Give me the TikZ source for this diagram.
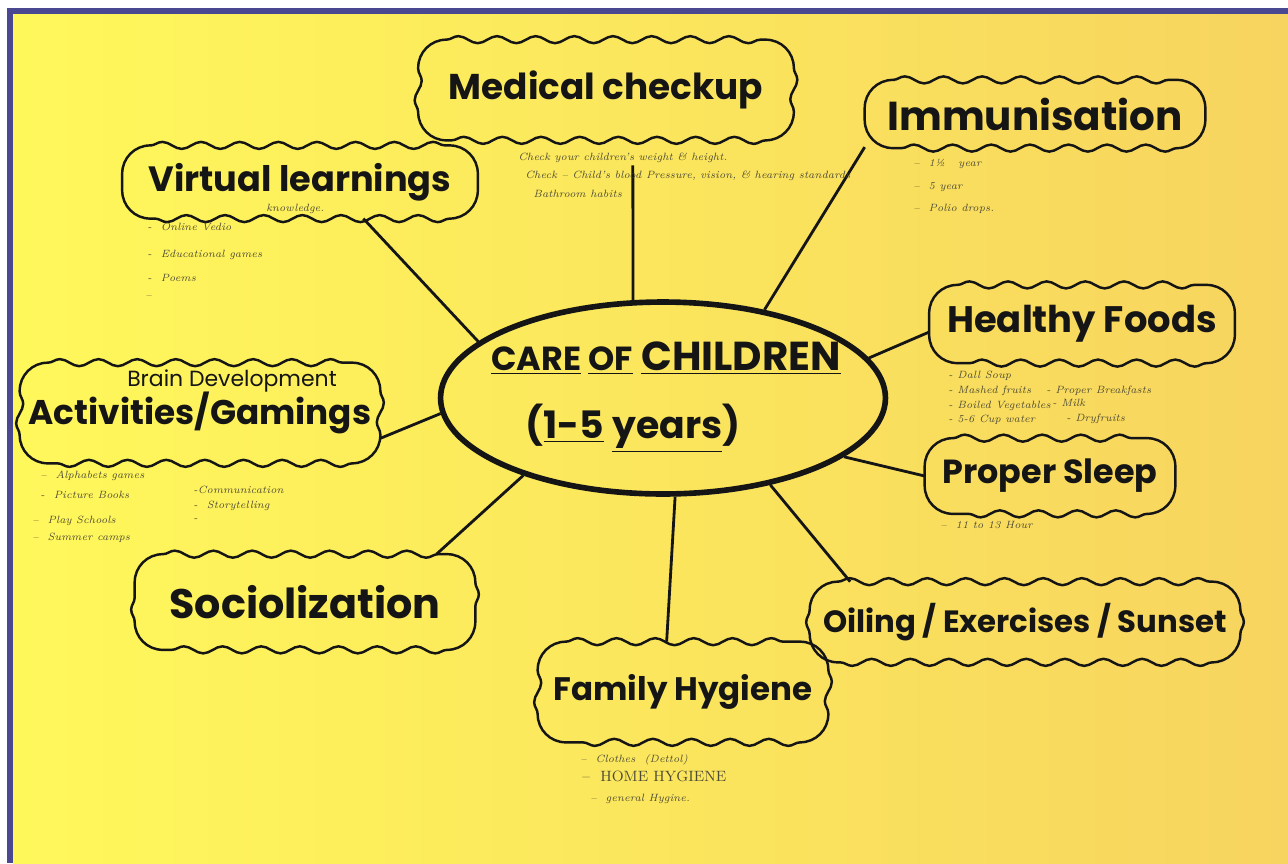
\documentclass[tikz,border=0pt]{standalone}
\usepackage{fontspec}
\usepackage{xcolor}
\usepackage{tikz}
\usetikzlibrary{shapes.geometric,decorations.pathmorphing}
\newfontfamily\handfont{Poppins}
\definecolor{paperLeft}{HTML}{FFF85B}
\definecolor{paperMid}{HTML}{FDEC5E}
\definecolor{paperRight}{HTML}{F7D45F}
\definecolor{frameBlue}{HTML}{4A4890}
\definecolor{inkGray}{HTML}{4E4B34}
\definecolor{markerBlack}{HTML}{151515}

\tikzset{
  hub/.style={draw=markerBlack, ellipse, line width=3.2pt, inner sep=0pt},
  topic/.style={rectangle, text=markerBlack, inner sep=0pt},
  wavy/.style={draw=markerBlack, line width=1.4pt,
    decoration={snake, amplitude=2pt, segment length=22pt}},
  spoke/.style={draw=markerBlack, line width=1.6pt},
  note/.style={anchor=base west, inner sep=0pt, text=inkGray,
    font=\itshape\fontsize{6}{7}\selectfont},
}

% wavy sides with round corners along the border of a topic node
\newcommand\wavybox[1]{%
  \draw[wavy] ([xshift=16pt]#1.north west) decorate {-- ([xshift=-16pt]#1.north east)}
    arc[start angle=90, end angle=0, radius=16pt] decorate {-- ([yshift=16pt]#1.south east)}
    arc[start angle=0, end angle=-90, radius=16pt] decorate {-- ([xshift=16pt]#1.south west)}
    arc[start angle=270, end angle=180, radius=16pt] decorate {-- ([yshift=-16pt]#1.north west)}
    arc[start angle=180, end angle=90, radius=16pt] -- cycle;}

\begin{document}
\begin{tikzpicture}[x=0.02cm, y=-0.02cm]
    \useasboundingbox (0,0) rectangle (1288,863);
    \fill[white] (0,0) rectangle (1288,863);
    \fill[frameBlue] (7,8) rectangle (1288,863);
    \shade[left color=paperLeft, middle color=paperMid, right color=paperRight] (13,14) rectangle (1288,863);

    % centre
    \node[hub, minimum width=8.9cm, minimum height=3.84cm] (care) at (663,398) {};
    \node[font=\handfont\bfseries\fontsize{23}{26}\selectfont, text=markerBlack] (careTitle) at (666,358)
      {{\fontsize{19}{22}\selectfont\underline{CARE} \underline{OF}} \underline{CHILDREN}};
    \node[font=\handfont\bfseries\fontsize{21.5}{24}\selectfont, text=markerBlack] (careAges) at (633,428)
      {(\underline{1-5} \underline{years})};

    % topics
    \node[topic, minimum width=7.5cm, minimum height=2cm, font=\handfont\bfseries\fontsize{20.4}{24}\selectfont] (medical) at (606,90) {Medical checkup};
    \node[topic, minimum width=6.8cm, minimum height=1.35cm, font=\handfont\bfseries\fontsize{23}{26}\selectfont] (immunisation) at (1035,114) {Immunisation};
    \node[topic, minimum width=7.1cm, minimum height=1.45cm, font=\handfont\bfseries\fontsize{20}{24}\selectfont] (virtual) at (300,182) {Virtual learnings};
    \node[topic, minimum width=6.1cm, minimum height=1.55cm, font=\handfont\bfseries\fontsize{21}{24}\selectfont] (foods) at (1082,324) {Healthy Foods};
    \node[topic, minimum width=7.2cm, minimum height=2cm, font=\handfont\bfseries\fontsize{19.5}{24}\selectfont] (activities) at (200,413) {\raisebox{-6pt}{Activities/Gamings}};
    \node[topic, minimum width=5cm, minimum height=1.5cm, font=\handfont\bfseries\fontsize{19}{24}\selectfont] (sleep) at (1050,476) {Proper Sleep};
    \node[topic, minimum width=6.8cm, minimum height=1.9cm, font=\handfont\bfseries\fontsize{23.5}{28}\selectfont] (social) at (305,602) {Sociolization};
    \node[topic, minimum width=8.6cm, minimum height=1.6cm, font=\handfont\bfseries\fontsize{17.5}{22}\selectfont] (oiling) at (1025,622) {Oiling / Exercises / Sunset};
    \node[topic, minimum width=5.8cm, minimum height=2cm, font=\handfont\bfseries\fontsize{18.5}{22}\selectfont] (family) at (683,692) {Family Hygiene};
    \node[font=\handfont\fontsize{12.5}{14}\selectfont, text=markerBlack] (brain) at (232,381) {Brain Development};

    % wavy outlines round the topics
    \foreach \t in {medical, immunisation, virtual, foods, activities, sleep, social, oiling, family}
      {\wavybox{\t}}

    % spokes
    \draw[spoke, shorten >=0.5cm] (care.107) -- (medical.-62);
    \draw[spoke] (care.41) -- (immunisation.191);
    \draw[spoke] (care.163) -- (virtual.-30);
    \draw[spoke] (care.11) -- (foods.183);
    \draw[spoke] (care.184) -- (activities.-8);
    \draw[spoke] (care.-18) -- (sleep.west);
    \draw[spoke] (care.209) -- (social.20);
    \draw[spoke] (care.-39) -- (oiling.167);
    \draw[spoke] (care.-83) -- (family.108);

    % notes
    \node[note] (medA) at (518,160) {Check your children's weight \& height.};
    \node[note] (medB) at (525,178) {Check -- Child's blood Pressure, vision, \& hearing standards};
    \node[note] (medC) at (533,197) {Bathroom habits};

    \node[note] (immA) at (913,166) {--\ \ 1½\ \ \ year};
    \node[note] (immB) at (913,189) {--\ \ 5 year};
    \node[note] (immC) at (913,211) {--\ \ Polio drops.};

    \node[note] (virK) at (266,211) {knowledge.};
    \node[note] (virA) at (147,230) {-\ \ Online Vedio};
    \node[note] (virB) at (147,257) {-\ \ Educational games};
    \node[note] (virC) at (147,281) {-\ \ Poems};
    \node[note] (virD) at (145,298) {--};

    \node[note] (foodA) at (948,378) {- Dall Soup};
    \node[note] (foodB) at (948,393) {- Mashed fruits};
    \node[note] (foodC) at (1046,393) {- Proper Breakfasts};
    \node[note] (foodD) at (948,408) {- Boiled Vegetables};
    \node[note] (foodE) at (1052,406) {- Milk};
    \node[note] (foodF) at (948,422) {- 5-6 Cup water};
    \node[note] (foodG) at (1066,421) {- Dryfruits};

    \node[note] (sleepA) at (940,528) {--\ \ 11 to 13 Hour};

    \node[note] (actA) at (40,478) {--\ \ Alphabets games};
    \node[note] (actB) at (40,498) {-\ \ Picture Books};
    \node[note] (actC) at (32,523) {--\ \ Play Schools};
    \node[note] (actD) at (32,540) {--\ \ Summer camps};
    \node[note] (actE) at (193,493) {-Communication};
    \node[note] (actF) at (193,508) {-\ \ Storytelling};
    \node[note] (actG) at (193,521) {-};

    \node[note] (famA) at (580,762) {--\ \ Clothes\ \ (Dettol)};
    \node[note, font=\fontsize{8.5}{10}\selectfont] (famB) at (582,781) {--\ \ HOME HYGIENE};
    \node[note] (famC) at (590,801) {--\ \ general Hygine.};
  \end{tikzpicture}
\end{document}
